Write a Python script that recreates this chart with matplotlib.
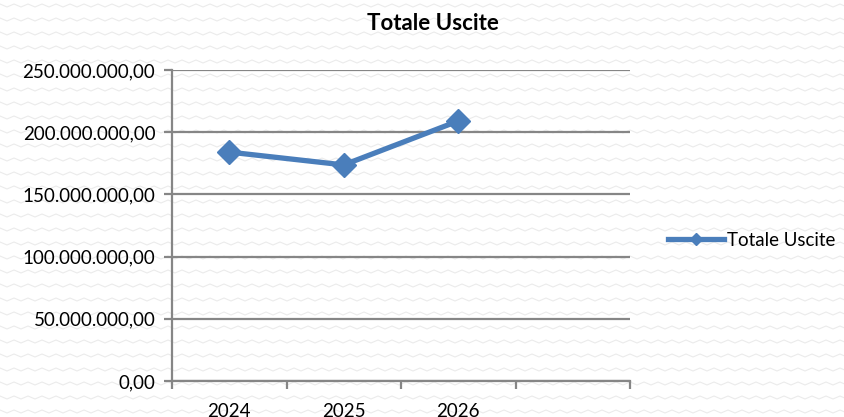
import numpy as np
import matplotlib
matplotlib.use("Agg")
import matplotlib.pyplot as plt
from matplotlib.lines import Line2D
from matplotlib.ticker import FuncFormatter, MultipleLocator

# dati
anni = ["2024", "2025", "2026"]
uscite = [184000000, 173700000, 209000000]
n_slot = 4  # l'asse ha una categoria vuota in fondo

colore = "#4a7ebb"
grigio = "#868686"

plt.rcParams["font.family"] = ["Lato", "DejaVu Sans"]

fig = plt.figure(figsize=(8.44, 4.17), dpi=100)
fig.patch.set_facecolor("white")

# sfondo a zig-zag leggero
bg = fig.add_axes([0, 0, 1, 1], zorder=-10)
bg.set_xlim(0, 844)
bg.set_ylim(417, 0)
bg.axis("off")
xs = np.arange(0, 850, 7)
for y0 in np.arange(4, 417, 14):
    ys = y0 + np.where(np.arange(len(xs)) % 2 == 0, 0, 3)
    bg.plot(xs, ys, color="#ebebeb", lw=0.8)

ax = fig.add_axes([172 / 844, 1 - 381 / 417, (630 - 172) / 844, (381 - 70) / 417])
ax.patch.set_alpha(0)

x = np.arange(len(anni)) + 0.5
ax.plot(x, uscite, color=colore, lw=3.8, marker="D", markersize=12,
        solid_capstyle="round", zorder=3)

ax.set_xlim(0, n_slot)
ax.set_ylim(0, 250000000)
ax.yaxis.set_major_locator(MultipleLocator(50000000))

def fmt(v, pos):
    s = f"{v:,.2f}"
    return s.replace(",", "X").replace(".", ",").replace("X", ".")

ax.yaxis.set_major_formatter(FuncFormatter(fmt))
ax.grid(axis="y", color=grigio, lw=1.6)
ax.set_axisbelow(True)

ax.set_xticks(np.arange(n_slot + 1))
ax.set_xticklabels([])
ax.set_xticks(x, minor=True)
ax.set_xticklabels(anni, minor=True)
ax.tick_params(axis="x", which="minor", length=0, pad=16, labelsize=13.5)
ax.tick_params(axis="x", which="major", length=6, width=1.6, color=grigio, direction="out")
ax.tick_params(axis="y", length=6, width=1.6, color=grigio, labelsize=13.5, pad=6)

for s in ["top", "right"]:
    ax.spines[s].set_visible(False)
for s in ["left", "bottom"]:
    ax.spines[s].set_color(grigio)
    ax.spines[s].set_linewidth(1.6)

fig.text(433 / 844, 1 - 23 / 417, "Totale Uscite", ha="center", va="center",
         fontsize=16, fontweight="bold")

proxy = Line2D([0], [0], color=colore, lw=3.8, marker="D", markersize=6)
fig.legend([proxy], ["Totale Uscite"], loc="center left",
           bbox_to_anchor=(668 / 844, 1 - 240 / 417), frameon=False,
           borderpad=0, borderaxespad=0,
           fontsize=13.5, handlelength=3.0, handletextpad=0.15)

fig.savefig("out.png", dpi=100)
